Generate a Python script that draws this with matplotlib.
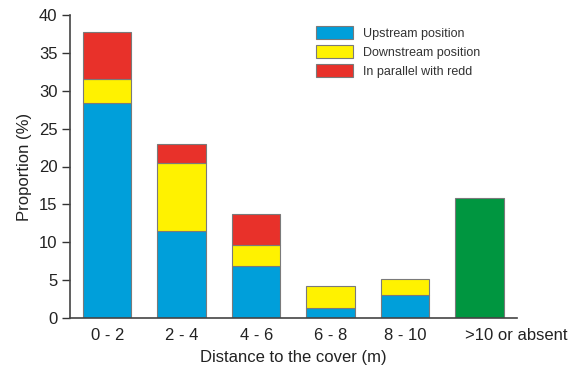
import matplotlib
matplotlib.use("Agg")
import matplotlib.pyplot as plt
from matplotlib.transforms import ScaledTranslation
import numpy as np

categories = ["0 - 2", "2 - 4", "4 - 6", "6 - 8", "8 - 10", ">10 or absent"]
upstream = [28.4, 11.5, 6.8, 1.3, 3.0, 0.0]
downstream = [3.1, 9.0, 2.8, 2.9, 2.1, 0.0]
parallel = [6.3, 2.5, 4.1, 0.0, 0.0, 0.0]
absent = [0.0, 0.0, 0.0, 0.0, 0.0, 15.9]

plt.rcParams['font.family'] = ['Liberation Sans', 'DejaVu Sans']

fig = plt.figure(figsize=(5.71, 3.72), dpi=100)
ax = fig.add_axes([70/571, 1-318/372, (516.7-70)/571, (318-15)/372])

x = np.arange(len(categories))
w = 0.65
ec = '#7a7a7a'
lw = 0.8
up = np.array(upstream)
dn = np.array(downstream)
pa = np.array(parallel)
ab = np.array(absent)

mask = up > 0
ax.bar(x[mask], up[mask], w, color='#009fda', edgecolor=ec, linewidth=lw, label='Upstream position')
mask = dn > 0
ax.bar(x[mask], dn[mask], w, bottom=up[mask], color='#fff200', edgecolor=ec, linewidth=lw, label='Downstream position')
mask = pa > 0
ax.bar(x[mask], pa[mask], w, bottom=(up + dn)[mask], color='#e8312a', edgecolor=ec, linewidth=lw, label='In parallel with redd')
mask = ab > 0
ax.bar(x[mask], ab[mask], w, color='#009640', edgecolor=ec, linewidth=lw)

ax.set_xlim(-0.5, 5.5)
ax.set_ylim(0, 40)
ax.set_yticks(range(0, 41, 5))
ax.set_xticks(x)
ax.set_xticklabels(categories, fontsize=12, color='#222222')
ax.tick_params(axis='x', length=0, pad=7)
ax.tick_params(axis='y', length=6, width=1, color='#333333', labelsize=12, labelcolor='#222222', pad=3)
# the last category label sits shifted to the right in the reference
lab = ax.get_xticklabels()[-1]
lab.set_transform(lab.get_transform() + ScaledTranslation(37/100, 0, fig.dpi_scale_trans))

for s in ['top', 'right']:
    ax.spines[s].set_visible(False)
for s in ['left', 'bottom']:
    ax.spines[s].set_color('#444444')
    ax.spines[s].set_linewidth(1.2)

ax.set_ylabel('Proportion (%)', fontsize=12, color='#222222', labelpad=5)
ax.set_xlabel('Distance to the cover (m)', fontsize=12, color='#222222', labelpad=5)

leg = ax.legend(loc='upper left', bbox_to_anchor=(316/571, 1-26/372), bbox_transform=fig.transFigure,
                frameon=False, fontsize=9, handlelength=2.95, handleheight=1.2, labelspacing=0.44,
                handletextpad=0.8, borderpad=0, borderaxespad=0)
for t in leg.get_texts():
    t.set_color('#333333')

fig.savefig('out.png', dpi=100)
